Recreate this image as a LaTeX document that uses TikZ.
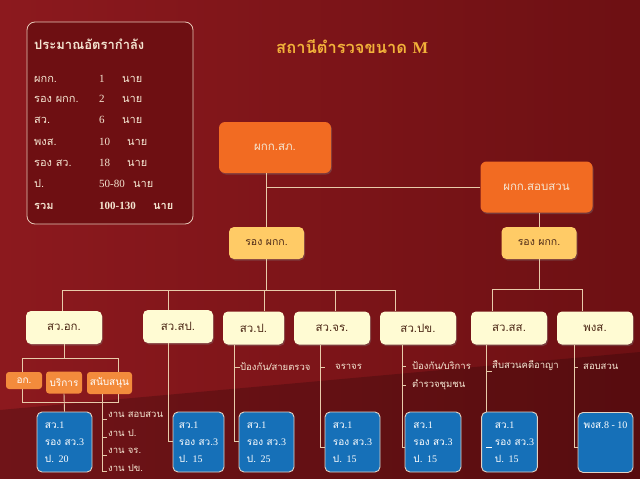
\documentclass[tikz,border=0pt]{standalone}
\usepackage{fontspec}
\setmainfont{Loma}[Script=Thai]
\newfontfamily\latfont{Liberation Serif}
\usetikzlibrary{positioning, shadows}
\newcommand{\lat}[1]{{\latfont #1}}

\definecolor{bgLeft}{HTML}{8C191E}
\definecolor{bgRight}{HTML}{6D1013}
\definecolor{panelFill}{HTML}{6E0F12}
\definecolor{panelEdge}{HTML}{E6C6B6}
\definecolor{paleText}{HTML}{F5E6D2}
\definecolor{titleGold}{HTML}{F2B23A}
\definecolor{headOrange}{HTML}{F26B22}
\definecolor{deputyYellow}{HTML}{FFCB66}
\definecolor{sectCream}{HTML}{FFFBD3}
\definecolor{darkBrown}{HTML}{4E2A18}
\definecolor{subOrange}{HTML}{F38B3C}
\definecolor{unitBlue}{HTML}{1670B8}
\definecolor{unitEdge}{HTML}{E2D2C4}
\definecolor{linkBeige}{HTML}{E8CBAA}

\begin{document}
\begin{tikzpicture}[x=1pt, y=-1pt,
    head/.style={rectangle, rounded corners=6pt, fill=headOrange, text=paleText, minimum width=112pt, minimum height=51pt, font=\fontsize{11.5}{13}\selectfont, drop shadow={opacity=0.35, shadow xshift=1pt, shadow yshift=-1.5pt}},
    deputy/.style={rectangle, rounded corners=5pt, fill=deputyYellow, text=darkBrown, minimum width=75pt, minimum height=32pt, font=\fontsize{10.5}{12}\selectfont, drop shadow={opacity=0.35, shadow xshift=1pt, shadow yshift=-1.5pt}},
    sect/.style={rectangle, rounded corners=5pt, fill=sectCream, text=darkBrown, minimum width=76pt, minimum height=33pt, font=\fontsize{11.5}{13}\selectfont, drop shadow={opacity=0.35, shadow xshift=1pt, shadow yshift=-1.5pt}},
    subunit/.style={rectangle, rounded corners=3pt, fill=subOrange, text=white, minimum width=36pt, inner sep=1pt, font=\fontsize{10}{12}\selectfont},
    unit/.style={rectangle, rounded corners=5pt, fill=unitBlue, draw=unitEdge, line width=0.9pt, text=white, minimum width=55pt, minimum height=60pt, align=left, font=\fontsize{10}{17}\selectfont},
    note/.style={anchor=west, inner sep=0pt, text=paleText, font=\fontsize{9.5}{12}\selectfont},
    row/.style={anchor=west, inner sep=0pt, text=paleText, font=\fontsize{11}{13}\selectfont},
    link/.style={draw=linkBeige, line width=0.9pt},
  ]

    % background
    \fill[left color=bgLeft, right color=bgRight] (0,0) rectangle (640,479);
    \fill[black, opacity=0.2] (0,410) -- (640,352) -- (640,479) -- (0,479) -- cycle;
    \useasboundingbox (0,0) rectangle (640,479);

    % manpower panel
    \node[rectangle, rounded corners=8pt, draw=panelEdge, fill=panelFill, line width=0.8pt, minimum width=166pt, minimum height=202pt] (panel) at (110,123) {};
    \node[row, font=\fontsize{13}{15}\selectfont\bfseries] (ptitle) at (34,44) {ประมาณอัตรากำลัง};
    \foreach \lab/\cnt/\ux/\y in {ผกก./1/122/79, รอง ผกก./2/122/99, สว./6/122/120, พงส./10/127/142, รอง สว./18/127/163, ป./50-80/133/184}{
      \node[row] at (34,\y) {\lab};
      \node[row] at (99,\y) {\lat{\cnt}};
      \node[row] at (\ux,\y) {นาย};
    }
    \node[row, font=\fontsize{11}{13}\selectfont\bfseries] (rsum) at (34,206) {รวม};
    \node[row, font=\fontsize{11}{13}\selectfont\bfseries] (rnum) at (99,206) {\lat{100-130}};
    \node[row, font=\fontsize{11}{13}\selectfont\bfseries] (runit) at (153,206) {นาย};

    % title
    \node[anchor=west, inner sep=0pt, text=titleGold, font=\fontsize{16.5}{18}\selectfont\bfseries] (title) at (276,47) {สถานีตำรวจขนาด \lat{M}};

    % commanders
    \node[head] (chief) at (275,147.5) {ผกก.สภ.};
    \node[head] (inv) at (536.5,187) {ผกก.สอบสวน};
    \node[deputy] (dep1) at (266.5,243) {รอง ผกก.};
    \node[deputy] (dep2) at (539,243) {รอง ผกก.};

    % sections
    \node[sect] (sag) at (64,327.5) {สว.อก.};
    \node[sect, minimum width=70pt] (ssp) at (178,326.5) {สว.สป.};
    \node[sect, minimum width=61pt] (sp) at (253.5,328) {สว.ป.};
    \node[sect] (sjr) at (332,328) {สว.จร.};
    \node[sect] (spk) at (418,328) {สว.ปข.};
    \node[sect] (sss) at (509,328) {สว.สส.};
    \node[sect] (spg) at (595,328) {พงส.};

    % admin sub units
    \draw[link] (22,358) rectangle (118,402);
    \node[subunit, minimum height=17pt] (ok) at (24,380.5) {อก.};
    \node[subunit, minimum height=22pt] (svc) at (64,382.5) {บริการ};
    \node[subunit, minimum width=45pt, minimum height=22pt] (spt) at (109.5,383) {สนับสนุน};

    % strength boxes
    \node[unit] (uag) at (64.5,442) {สว.\lat{1}\\รอง สว.\lat{3}\\ป. \lat{20}};
    \node[unit, minimum width=51pt] (usp) at (198.5,442) {สว.\lat{1}\\รอง สว.\lat{3}\\ป. \lat{15}};
    \node[unit] (up) at (266.5,442) {สว.\lat{1}\\รอง สว.\lat{3}\\ป. \lat{25}};
    \node[unit] (ujr) at (352.5,442) {สว.\lat{1}\\รอง สว.\lat{3}\\ป. \lat{15}};
    \node[unit, minimum width=56pt] (upk) at (433,442) {สว.\lat{1}\\รอง สว.\lat{3}\\ป. \lat{15}};
    \node[unit] (uss) at (509.5,442) {\hspace*{10pt}สว.\lat{1}\\\hspace*{10pt}รอง สว.\lat{3}\\\hspace*{10pt}ป. \lat{15}};
    \node[unit, anchor=north] (upg) at (605.5,412) {พงส.\lat{8 - 10}\\[0pt]\mbox{}\\\mbox{}};

    % upper links
    \draw[link] (dep1.north |- chief.south) -- (dep1.north);
    \draw[link] (inv.west) -- (inv.west -| dep1.north);
    \draw[link] (inv.south -| dep2.north) -- (dep2.north);

    % left bus
    \foreach \n/\x in {ag/62, sp/168, p/264, jr/335, pk/395}
      \coordinate (t\n) at (\x,290);
    \draw[link] (tag) -- (tpk);
    \draw[link] (dep1.south) -- (dep1.south |- tag);
    \draw[link] (tag) -- (tag |- sag.north);
    \draw[link] (tsp) -- (tsp |- ssp.north);
    \draw[link] (tp) -- (tp |- sp.north);
    \draw[link] (tjr) -- (tjr |- sjr.north);
    \draw[link] (tpk) -- (tpk |- spk.north);

    % right bus
    \coordinate (tss) at (492,289);
    \coordinate (tpg) at (582,289);
    \draw[link] (tss) -- (tpg);
    \draw[link] (dep2.south) -- (dep2.south |- tss);
    \draw[link] (tss) -- (tss |- sss.north);
    \draw[link] (tpg) -- (tpg |- spg.north);

    % admin branch
    \draw[link] (sag.south) -- (sag.south |- 0,358);
    \draw[link] (svc.south) -- (uag.north);
    \coordinate (kspt) at (102,471);
    \draw[link] (spt.south -| kspt) -- (kspt) -- ++(5,0);
    \foreach \txt/\y in {งาน สอบสวน/415, งาน ป./433, งาน จร./451}{
      \draw[link] (102,\y+4) -- (107,\y+4);
    }
    \node[note] (w1) at (108,415) {งาน สอบสวน};
    \node[note] (w2) at (108,433) {งาน ป.};
    \node[note] (w3) at (108,451) {งาน จร.};
    \node[note] (w4) at (108,468) {งาน ปข.};

    % section branches
    \draw[link] (ssp.south -| 168,0) |- (usp.west |- 0,441);
    \draw[link] (sp.south -| 234,0) |- (up.west |- 0,441);
    \draw[link] (sjr.south -| 320,0) |- (ujr.west |- 0,447);
    \draw[link] (spk.south -| 402,0) |- (upk.west |- 0,447);
    \draw[link] (sss.south -| 486,0) -- (uss.north -| 486,0);
    \draw[link] (spg.south -| 574,0) |- (upg.west |- 0,447);

    \node[note] (np) at (240,367) {ป้องกัน/สายตรวจ};
    \draw[link] (234,367) -- (np.west);
    \node[note] (njr) at (335,367) {จราจร};
    \draw[link] (320,367) -- (325,367);
    \node[note] (npk1) at (412,366) {ป้องกัน/บริการ};
    \node[note] (npk2) at (412,385) {ตำรวจชุมชน};
    \draw[link] (402,366) -- (406,366);
    \draw[link] (402,385) -- (406,385);
    \node[note] (nss) at (492,366) {สืบสวนคดีอาญา};
    \draw[link] (486,371) -- (492,371);
    \draw[link, draw=white] (486,447) -- (492,447);
    \node[note] (npg) at (583,367) {สอบสวน};
    \draw[link] (574,367) -- (578,367);

  \end{tikzpicture}
\end{document}
